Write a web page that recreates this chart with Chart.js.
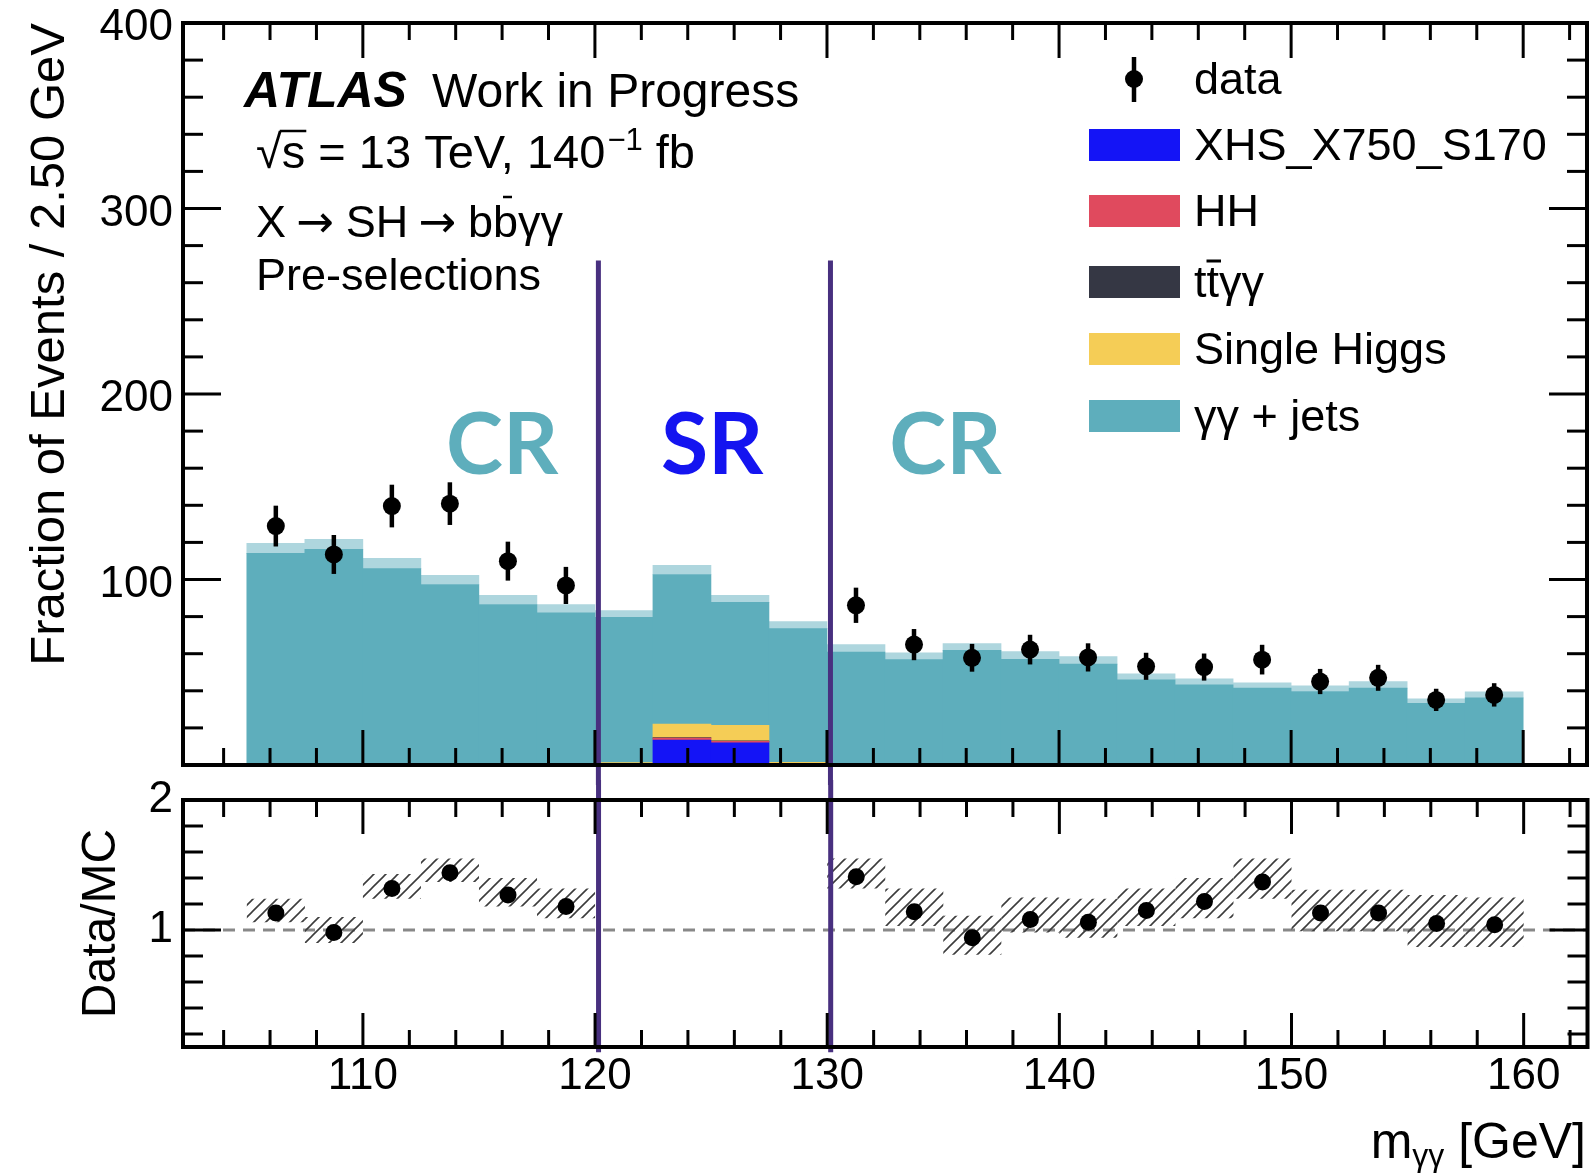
<!DOCTYPE html>
<html>
<head>
<meta charset="utf-8">
<script src="https://cdn.jsdelivr.net/npm/chart.js@4.4.0/dist/chart.umd.min.js"></script>
<style>
html, body { margin: 0; padding: 0; background: #fff; overflow: hidden; }
#wrap { position: relative; width: 1593px; height: 1175px; overflow: hidden; }
#mainCanvas { position: absolute; left: 0; top: 0; }
#ratioCanvas { position: absolute; left: 0; top: 780px; }
</style>
</head>
<body>
<div id="wrap">
  <canvas id="mainCanvas" width="1596" height="785"></canvas>
  <canvas id="ratioCanvas" width="1596" height="395"></canvas>
</div>
<script>
// ---- data (2.5 GeV bins, 105 - 160 GeV) ----
var binCenters = [106.25, 108.75, 111.25, 113.75, 116.25, 118.75, 121.25, 123.75, 126.25, 128.75, 131.25,
                  133.75, 136.25, 138.75, 141.25, 143.75, 146.25, 148.75, 151.25, 153.75, 156.25, 158.75];

var xhs     = [0, 0, 0, 0, 0, 0, 0.3, 13.5, 12.0, 0.3, 0, 0, 0, 0, 0, 0, 0, 0, 0, 0, 0, 0];
var hh      = [0, 0, 0, 0, 0, 0, 0, 1.0, 0.7, 0, 0, 0, 0, 0, 0, 0, 0, 0, 0, 0, 0, 0];
var ttyy    = [0, 0, 0, 0, 0, 0, 0.1, 0.3, 0.3, 0.1, 0, 0, 0, 0, 0, 0, 0, 0, 0, 0, 0, 0];
var singleH = [0, 0, 0, 0, 0, 0, 0.9, 7.2, 8.4, 1.0, 0, 0, 0, 0, 0, 0, 0, 0, 0, 0, 0, 0];
var yyJets  = [114.1, 116.2, 105.9, 97.3, 86.5, 82.0, 78.3, 80.7, 66.3, 72.1, 60.9,
               56.8, 61.8, 56.9, 54.4, 45.9, 43.2, 41.4, 39.6, 41.4, 33.2, 36.2];
var mcUnc   = [5.4, 5.4, 5.5, 4.9, 4.9, 4.5, 3.6, 4.9, 3.7, 3.8, 4.0,
               3.7, 3.6, 4.2, 4.0, 3.3, 3.3, 2.9, 3.1, 3.6, 2.5, 3.3];

var dataVals = [128.8, 113.5, 139.6, 140.9, 109.9, 96.8, null, null, null, null, 86.1,
                64.9, 57.8, 62.2, 58.0, 53.2, 52.8, 56.8, 45.0, 47.0, 35.1, 37.8];
var dataErr  = [11.0, 10.5, 11.5, 11.5, 10.5, 10.0, null, null, null, null, 9.5,
                8.4, 7.5, 8.0, 7.6, 7.3, 7.3, 8.0, 6.8, 7.0, 6.0, 6.3];

var ratioVals = [1.13, 0.98, 1.32, 1.44, 1.27, 1.18, null, null, null, null, 1.41,
                 1.14, 0.94, 1.08, 1.06, 1.15, 1.22, 1.37, 1.13, 1.13, 1.05, 1.04];
var ratioLo   = [1.06, 0.90, 1.24, 1.37, 1.18, 1.09, null, null, null, null, 1.32,
                 1.03, 0.81, 0.98, 0.94, 1.03, 1.09, 1.24, 0.99, 0.99, 0.87, 0.87];
var ratioHi   = [1.24, 1.10, 1.43, 1.55, 1.40, 1.32, null, null, null, null, 1.55,
                 1.32, 1.11, 1.25, 1.24, 1.32, 1.40, 1.55, 1.31, 1.31, 1.27, 1.25];

var regionEdges = [120.15, 130.15];
var regionLabels = ['CR', 'SR', 'CR'];
var regionLabelX = [116.0, 125.05, 135.1];

var X_MIN = 102.25, X_MAX = 162.75;

// ---- styles ----
var FONT = "'Liberation Sans', Arial, Helvetica, sans-serif";
var C_XHS = '#1414f6', C_HH = '#e04a5e', C_TT = '#353744', C_SH = '#f5cd56',
    C_YY = '#5eaebc', C_UNC = '#aed6de', C_DIV = '#48307f';
var regionColors = [C_YY, '#1414f0', C_YY];

function pts(arr) {
  var out = [];
  binCenters.forEach(function (x, i) {
    if (arr[i] !== null && arr[i] !== 0) out.push({ x: x, y: arr[i] });
  });
  return out;
}

function hatchPattern() {
  var c = document.createElement('canvas');
  c.width = 12; c.height = 12;
  var g = c.getContext('2d');
  g.strokeStyle = '#3c3c3c';
  g.lineWidth = 1.6;
  g.beginPath();
  g.moveTo(0, 12); g.lineTo(12, 0);
  g.moveTo(-6, 6); g.lineTo(6, -6);
  g.moveTo(6, 18); g.lineTo(18, 6);
  g.stroke();
  return g.createPattern(c, 'repeat');
}

function seg(ctx, x1, y1, x2, y2) {
  ctx.beginPath(); ctx.moveTo(x1, y1); ctx.lineTo(x2, y2); ctx.stroke();
}

// inward ticks on all four sides + frame
function drawFrame(chart, yName, xMinor, xMajor, yMinor, yMajor, xLen, yLen) {
  var ctx = chart.ctx, a = chart.chartArea;
  var xs = chart.scales.x, ys = chart.scales[yName];
  ctx.save();
  ctx.strokeStyle = '#000';
  ctx.lineWidth = 3;
  xMinor.forEach(function (v) {
    var p = xs.getPixelForValue(v);
    var L = xMajor.indexOf(v) >= 0 ? xLen[1] : xLen[0];
    seg(ctx, p, a.bottom, p, a.bottom - L);
    seg(ctx, p, a.top, p, a.top + L);
  });
  yMinor.forEach(function (v) {
    var p = ys.getPixelForValue(v);
    var L = yMajor.indexOf(v) >= 0 ? yLen[1] : yLen[0];
    seg(ctx, a.left, p, a.left + L, p);
    seg(ctx, a.right, p, a.right - L, p);
  });
  ctx.lineWidth = 4;
  ctx.strokeRect(a.left, a.top, a.right - a.left, a.bottom - a.top);
  ctx.restore();
}

var xMinorTicks = [];
for (var t = 104; t <= 162; t += 2) xMinorTicks.push(t);
var xMajorTicks = [110, 120, 130, 140, 150, 160];
var yMinorTicks = [];
for (var u = 0; u <= 400; u += 20) yMinorTicks.push(u);
var yMajorTicks = [0, 100, 200, 300, 400];
var rMinorTicks = [0.2, 0.4, 0.6, 0.8, 1, 1.2, 1.4, 1.6, 1.8];
var rMajorTicks = [1];

var legendRows = [
  { label: 'XHS_X750_S170', color: C_XHS, y: 145 },
  { label: 'HH', color: C_HH, y: 211 },
  { label: 'ttγγ', color: C_TT, y: 282, bar: true },
  { label: 'Single Higgs', color: C_SH, y: 349 },
  { label: 'γγ + jets', color: C_YY, y: 416 }
];

var mainDecor = {
  id: 'mainDecor',
  afterDatasetsDraw: function (chart) {
    var ctx = chart.ctx, xs = chart.scales.x, ys = chart.scales.y;
    ctx.save();
    // data error bars
    ctx.strokeStyle = '#000';
    ctx.lineWidth = 4.5;
    binCenters.forEach(function (x, i) {
      if (dataVals[i] === null) return;
      var px = xs.getPixelForValue(x);
      seg(ctx, px, ys.getPixelForValue(dataVals[i] - dataErr[i]), px, ys.getPixelForValue(dataVals[i] + dataErr[i]));
    });
    // CR / SR dividers
    ctx.strokeStyle = C_DIV;
    ctx.lineWidth = 5;
    regionEdges.forEach(function (e) {
      var px = xs.getPixelForValue(e);
      seg(ctx, px, ys.getPixelForValue(272), px, chart.height);
    });
    // region labels
    ctx.font = 'bold 86px Lato, ' + FONT;
    ctx.textAlign = 'center';
    ctx.textBaseline = 'middle';
    regionLabels.forEach(function (lab, i) {
      ctx.fillStyle = regionColors[i];
      ctx.fillText(lab, xs.getPixelForValue(regionLabelX[i]), ys.getPixelForValue(172));
    });
    ctx.restore();
  },
  afterDraw: function (chart) {
    drawFrame(chart, 'y', xMinorTicks, xMajorTicks, yMinorTicks, yMajorTicks, [17, 35], [20, 38]);
    var ctx = chart.ctx;
    ctx.save();
    ctx.fillStyle = '#000';
    ctx.strokeStyle = '#000';
    ctx.textAlign = 'left';
    ctx.textBaseline = 'alphabetic';

    // ATLAS label
    ctx.font = 'italic bold 50px ' + FONT;
    ctx.fillText('ATLAS', 244, 107);
    ctx.font = '48px ' + FONT;
    ctx.fillText('Work in Progress', 432, 107);

    // sqrt(s) line
    ctx.font = '47px ' + FONT;
    var x = 256, base = 168;
    ctx.fillText('√', x, base);
    x += ctx.measureText('√').width;
    var sw = ctx.measureText('s').width;
    ctx.fillText('s', x, base);
    ctx.lineWidth = 2.5;
    seg(ctx, x - 2, base - 37, x + sw + 1, base - 37);
    x += sw;
    ctx.fillText(' = 13 TeV, 140', x, base);
    x += ctx.measureText(' = 13 TeV, 140').width;
    ctx.font = '31px ' + FONT;
    ctx.fillText('−1', x + 2, base - 18);
    x += ctx.measureText('−1').width + 2;
    ctx.font = '47px ' + FONT;
    ctx.fillText(' fb', x, base);

    // process line, arrows from DejaVu Sans
    var arrowFont = '45px "DejaVu Sans", sans-serif';
    var txtFont = '45px ' + FONT;
    x = 256; base = 237;
    var parts = [['X', txtFont, 10], ['→', arrowFont, 12], ['SH', txtFont, 10], ['→', arrowFont, 12]];
    parts.forEach(function (p) {
      ctx.font = p[1];
      ctx.fillText(p[0], x, base);
      x += ctx.measureText(p[0]).width + p[2];
    });
    ctx.font = txtFont;
    ctx.fillText('b', x, base);
    var bw = ctx.measureText('b').width;
    x += bw;
    ctx.fillText('b', x, base);
    ctx.lineWidth = 2.5;
    seg(ctx, x + bw * 0.4, base - 40, x + bw * 0.4 + 9, base - 40);
    x += bw;
    ctx.fillText('γγ', x, base);

    ctx.fillText('Pre-selections', 256, 290);

    // legend
    ctx.textBaseline = 'middle';
    ctx.beginPath();
    ctx.arc(1134, 79, 9, 0, Math.PI * 2);
    ctx.fill();
    ctx.lineWidth = 4.5;
    seg(ctx, 1134, 57, 1134, 102);
    ctx.fillText('data', 1194, 82);
    legendRows.forEach(function (r) {
      ctx.fillStyle = r.color;
      ctx.fillRect(1089, r.y - 16, 91, 32);
      ctx.fillStyle = '#000';
      ctx.fillText(r.label, 1194, r.y + 3);
      if (r.bar) {
        var tw = ctx.measureText('t').width;
        ctx.lineWidth = 3;
        seg(ctx, 1194 + tw, r.y - 21, 1194 + 2 * tw + 2, r.y - 21);
      }
    });
    ctx.restore();
  }
};

var ratioDecor = {
  id: 'ratioDecor',
  afterDatasetsDraw: function (chart) {
    var ctx = chart.ctx, xs = chart.scales.x, ys = chart.scales.yr;
    ctx.save();
    ctx.strokeStyle = C_DIV;
    ctx.lineWidth = 5;
    regionEdges.forEach(function (e) {
      var px = xs.getPixelForValue(e);
      seg(ctx, px, 0, px, ys.getPixelForValue(0.06));
    });
    ctx.restore();
  },
  afterDraw: function (chart) {
    drawFrame(chart, 'yr', xMinorTicks, xMajorTicks, rMinorTicks, rMajorTicks, [17, 34], [20, 38]);
    var ctx = chart.ctx;
    ctx.save();
    ctx.fillStyle = '#000';
    ctx.textBaseline = 'alphabetic';
    ctx.textAlign = 'left';
    ctx.font = '50px ' + FONT;
    var w1 = ctx.measureText('m').width, w3 = ctx.measureText(' [GeV]').width;
    ctx.font = '32px ' + FONT;
    var w2 = ctx.measureText('γγ').width;
    var x = 1586 - (w1 + w2 + w3), base = 378;
    ctx.font = '50px ' + FONT;
    ctx.fillText('m', x, base);
    ctx.font = '32px ' + FONT;
    ctx.fillText('γγ', x + w1, base + 8);
    ctx.font = '50px ' + FONT;
    ctx.fillText(' [GeV]', x + w1 + w2, base);
    ctx.restore();
  }
};

var barBase = { type: 'bar', stack: 'mc', barPercentage: 1, categoryPercentage: 1, borderWidth: 0 };
function barSet(label, arr, color) {
  return Object.assign({}, barBase, { label: label, data: pts(arr), backgroundColor: color });
}

var xTickFont = { family: FONT, size: 44, lineHeight: 0.6 };
var yTickFont = { family: FONT, size: 44, lineHeight: 0.2 };

new Chart(document.getElementById('mainCanvas'), {
  type: 'bar',
  data: {
    datasets: [
      barSet('XHS_X750_S170', xhs, C_XHS),
      barSet('HH', hh, C_HH),
      barSet('ttyy', ttyy, C_TT),
      barSet('Single Higgs', singleH, C_SH),
      barSet('yy + jets', yyJets, C_YY),
      barSet('MC unc.', mcUnc, C_UNC),
      {
        type: 'scatter', label: 'data', stack: 'pts', order: -1,
        data: pts(dataVals), pointRadius: 9, pointBackgroundColor: '#000', pointBorderWidth: 0
      }
    ]
  },
  options: {
    responsive: false,
    animation: false,
    events: [],
    layout: { padding: { left: 0, right: 3, top: 23, bottom: 20 } },
    plugins: { legend: { display: false }, tooltip: { enabled: false } },
    scales: {
      x: {
        type: 'linear', min: X_MIN, max: X_MAX, offset: false, display: false,
        ticks: { stepSize: 10, includeBounds: false }
      },
      y: {
        min: 0, max: 400, stacked: true,
        grid: { display: false, drawTicks: false },
        border: { display: false },
        ticks: {
          stepSize: 100, font: yTickFont, color: '#000', padding: 10, labelOffset: 5,
          callback: function (v) { return v === 0 ? '' : String(v); }
        },
        title: {
          display: true, text: 'Fraction of Events / 2.50 GeV', align: 'end', color: '#000',
          font: { family: FONT, size: 49 }, padding: { top: 21, bottom: 0 }
        },
        afterFit: function (s) { s.width = 183; }
      }
    }
  },
  plugins: [mainDecor]
});

var hatchData = [];
binCenters.forEach(function (x, i) {
  if (ratioLo[i] !== null) hatchData.push({ x: x, y: [ratioLo[i], ratioHi[i]] });
});

new Chart(document.getElementById('ratioCanvas'), {
  type: 'bar',
  data: {
    datasets: [
      {
        type: 'bar', label: 'stat. unc.', data: hatchData, yAxisID: 'yr',
        backgroundColor: hatchPattern(), borderWidth: 0, barPercentage: 1, categoryPercentage: 1, inflateAmount: 0
      },
      {
        type: 'line', label: 'unity', yAxisID: 'yr', data: [{ x: X_MIN, y: 1 }, { x: X_MAX, y: 1 }],
        borderColor: '#888', borderWidth: 3, borderDash: [12, 8], pointRadius: 0
      },
      {
        type: 'scatter', label: 'Data/MC', yAxisID: 'yr', order: -1,
        data: pts(ratioVals), pointRadius: 8.5, pointBackgroundColor: '#000', pointBorderWidth: 0
      }
    ]
  },
  options: {
    responsive: false,
    animation: false,
    events: [],
    layout: { padding: { left: 0, right: 3, top: 20, bottom: 0 } },
    plugins: { legend: { display: false }, tooltip: { enabled: false } },
    scales: {
      x: {
        type: 'linear', min: X_MIN, max: X_MAX, offset: false,
        grid: { display: false, drawTicks: false },
        border: { display: false },
        ticks: {
          stepSize: 10, includeBounds: false, autoSkip: false, maxRotation: 0,
          font: xTickFont, color: '#000', padding: 17
        },
        afterFit: function (s) { s.height = 128; }
      },
      yr: {
        position: 'left', min: 0.1, max: 2,
        grid: { display: false, drawTicks: false },
        border: { display: false },
        ticks: { stepSize: 1, includeBounds: false, font: yTickFont, color: '#000', padding: 10 },
        title: {
          display: true, text: 'Data/MC', align: 'center', color: '#000',
          font: { family: FONT, size: 48 }, padding: { top: 73, bottom: 0 }
        },
        afterFit: function (s) { s.width = 183; }
      }
    }
  },
  plugins: [ratioDecor]
});
</script>
</body>
</html>
